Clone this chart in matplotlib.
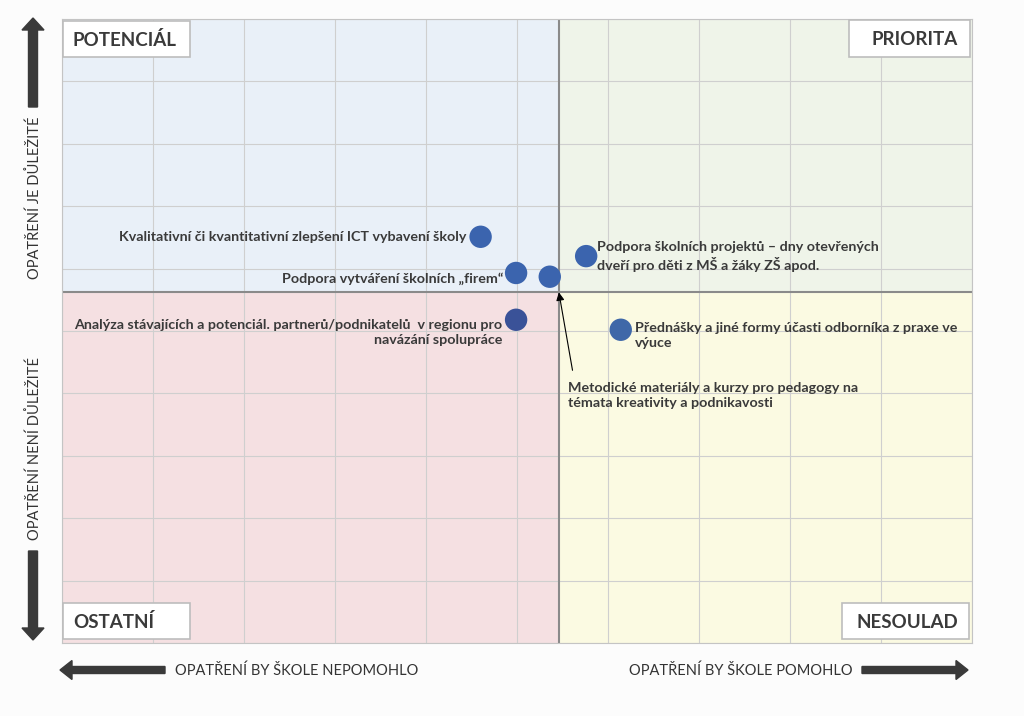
import matplotlib
matplotlib.use("Agg")
import matplotlib.pyplot as plt
from matplotlib.patches import Rectangle, FancyArrow

plt.rcParams['font.family'] = ['Lato', 'DejaVu Sans']

# data (x = would help the school, y = importance), grid units 0..10
names = [
    "Kvalitativní či kvantitativní zlepšení ICT vybavení školy",
    "Podpora vytváření školních „firem“",
    "Metodické materiály a kurzy pro pedagogy na\ntémata kreativity a podnikavosti",
    "Podpora školních projektů – dny otevřených\ndveří pro děti z MŠ a žáky ZŠ apod.",
    "Analýza stávajících a potenciál. partnerů/podnikatelů  v regionu pro\nnavázání spolupráce",
    "Přednášky a jiné formy účasti odborníka z praxe ve\nvýuce",
]
x_vals = [4.60, 4.99, 5.36, 5.76, 4.99, 6.14]
y_vals = [6.51, 5.93, 5.87, 6.20, 5.18, 5.02]
dot_colors = ["#3b64ae", "#3b64ae", "#3b64ae", "#3b64ae", "#3a5298", "#3f68a8"]

x_split = 5.46
y_split = 5.62
quadrants = ["POTENCIÁL", "PRIORITA", "OSTATNÍ", "NESOULAD"]
x_axis_labels = ["OPATŘENÍ BY ŠKOLE NEPOMOHLO", "OPATŘENÍ BY ŠKOLE POMOHLO"]
y_axis_labels = ["OPATŘENÍ JE DŮLEŽITÉ", "OPATŘENÍ NENÍ DŮLEŽITÉ"]

txt = "#3a3a3a"
fs = 10.3

fig = plt.figure(figsize=(10.24, 7.16), dpi=100)
fig.patch.set_facecolor("#fcfcfc")
ax = fig.add_axes([62 / 1024, 73 / 716, 910 / 1024, 624 / 716])
ax.set_xlim(0, 10)
ax.set_ylim(0, 10)

# quadrant backgrounds
ax.add_patch(Rectangle((0, y_split), x_split, 10 - y_split, color="#e9f0f8", zorder=0))
ax.add_patch(Rectangle((x_split, y_split), 10 - x_split, 10 - y_split, color="#eff4e9", zorder=0))
ax.add_patch(Rectangle((0, 0), x_split, y_split, color="#f5e0e2", zorder=0))
ax.add_patch(Rectangle((x_split, 0), 10 - x_split, y_split, color="#fbfae2", zorder=0))

ax.set_xticks(range(11))
ax.set_yticks(range(11))
ax.grid(True, color="#cfcfcf", lw=0.8, zorder=1)
ax.tick_params(length=0, labelbottom=False, labelleft=False)
for s in ax.spines.values():
    s.set_color("#c4c4c4")
ax.axvline(x_split, color="#8a8a8a", lw=1.5, zorder=2)
ax.axhline(y_split, color="#8a8a8a", lw=1.5, zorder=2)

ax.scatter(x_vals, y_vals, s=260, c=dot_colors, edgecolors="none", zorder=5)

# label layout: offsets in points, alignment
label_layout = [
    (-10, 0, "right", "center"),
    (-9, -4, "right", "center"),
    None,
    (8, 0, "left", "center"),
    (-10, -9, "right", "center"),
    (10, -4, "left", "center"),
]
for i, name in enumerate(names):
    lay = label_layout[i]
    if lay is None:
        continue
    dx, dy, ha, va = lay
    ax.annotate(name, (x_vals[i], y_vals[i]), xytext=(dx, dy), textcoords="offset points",
                ha=ha, va=va, fontsize=fs, color=txt, fontweight="bold",
                linespacing=1.3, zorder=6)

# label with pointer for the point at the crossing
ax.text(5.56, 3.97, names[2], ha="left", va="center", fontsize=fs, color=txt,
        fontweight="bold", linespacing=1.3, zorder=6)
ax.annotate("", xy=(x_split, y_split), xytext=(5.61, 4.37), textcoords="data",
            arrowprops=dict(arrowstyle="-|>", color="black", lw=0.8, shrinkA=0, shrinkB=0,
                            mutation_scale=12), zorder=6)

def px(x, y):
    return x / 1024, 1 - y / 716

# quadrant boxes (figure pixel coords)
boxes = [(63, 21, 190, 57), (849, 20, 970, 57), (63, 603, 190, 639), (842, 603, 969, 639)]
anchors = [(73, "left"), (958, "right"), (73, "left"), (958, "right")]
for label, (x0, y0, x1, y1), (tx, ha) in zip(quadrants, boxes, anchors):
    fig.add_artist(Rectangle(px(x0, y1), (x1 - x0) / 1024, (y1 - y0) / 716,
                             transform=fig.transFigure, fc="white", ec="#bdbdbd", lw=1.2,
                             zorder=7))
    fig.text(*px(tx, (y0 + y1) / 2 + 1), label, ha=ha, va="center", fontsize=13.5,
             fontweight="bold", color=txt, zorder=8)

# axis descriptions with block arrows
arrow_c = "#3a3a3a"
fig.text(*px(35, 198), y_axis_labels[0], rotation=90, ha="center", va="center",
         fontsize=10.5, color="#333333")
fig.text(*px(35, 448), y_axis_labels[1], rotation=90, ha="center", va="center",
         fontsize=10.5, color="#333333")
fig.text(*px(175, 671), x_axis_labels[0], ha="left", va="center", fontsize=10.5,
         color="#333333")
fig.text(*px(853, 671), x_axis_labels[1], ha="right", va="center", fontsize=10.5,
         color="#333333")

def block_arrow(x0, y0, x1, y1, horizontal):
    a0 = px(x0, y0)
    a1 = px(x1, y1)
    if horizontal:
        w, hw, hl = 7 / 716, 19 / 716, 12 / 1024
    else:
        w, hw, hl = 9 / 1024, 22 / 1024, 12 / 716
    fig.add_artist(FancyArrow(a0[0], a0[1], a1[0] - a0[0], a1[1] - a0[1], width=w,
                              head_width=hw, head_length=hl, length_includes_head=True,
                              color=arrow_c, transform=fig.transFigure))

block_arrow(33, 107, 33, 18, False)
block_arrow(33, 551, 33, 640, False)
block_arrow(165, 670, 60, 670, True)
block_arrow(862, 670, 968, 670, True)

fig.savefig("out.png", dpi=100, facecolor=fig.get_facecolor())
